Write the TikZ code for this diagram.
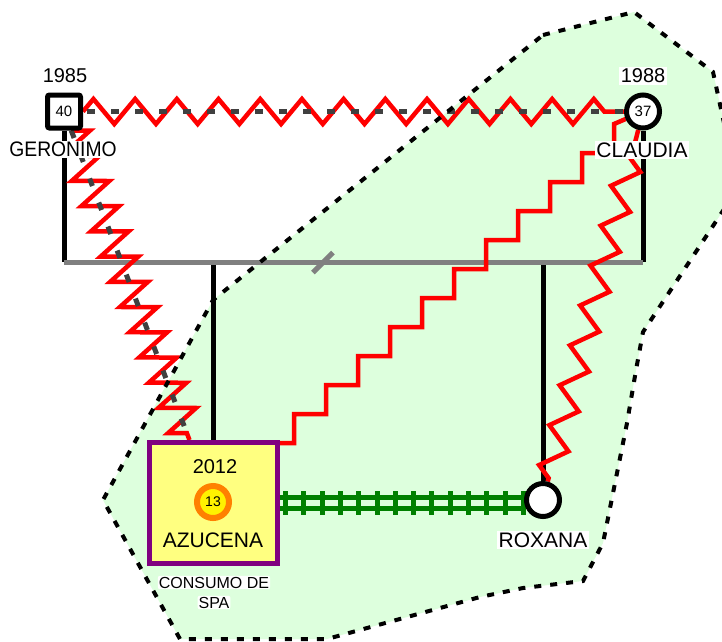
\documentclass[tikz,border=0pt]{standalone}
\usepackage{fontspec}
\usepackage{graphicx}
\setmainfont{Liberation Sans}
\usetikzlibrary{decorations.pathmorphing,decorations.pathreplacing,calc}
\definecolor{bggreen}{RGB}{221,255,221}
\definecolor{relred}{RGB}{255,0,0}
\definecolor{dgray}{RGB}{64,64,64}
\definecolor{mgray}{RGB}{128,128,128}
\definecolor{trackgreen}{RGB}{0,128,0}
\definecolor{purp}{RGB}{128,0,128}
\definecolor{boxyellow}{RGB}{255,255,128}
\definecolor{ringorange}{RGB}{255,128,0}
\pgfdeclarelayer{bg}
\pgfdeclarelayer{lines}
\pgfdeclarelayer{border}
\pgfsetlayers{bg,lines,border,main}
\begin{document}
\begin{tikzpicture}[x=1pt,y=-1pt,
  every node/.style={font=\fontsize{21}{24}\selectfont, inner sep=1pt},
  lbl/.style={fill=white, inner sep=1.5pt},
  yearlbl/.style={lbl, font=\fontsize{20}{22}\selectfont},
  smalllbl/.style={fill=white, inner sep=1pt, rounded corners=2pt, font=\fontsize{16}{18}\selectfont},
  male/.style={draw=black, fill=white, line width=5pt, minimum size=33pt, inner sep=0pt, rounded corners=2pt, font=\fontsize{15}{16}\selectfont},
  female/.style={draw=black, fill=white, circle, line width=5pt, minimum size=33pt, inner sep=0pt, font=\fontsize{15}{16}\selectfont},
  azbox/.style={draw=purp, fill=boxyellow, line width=5pt, minimum width=128pt, minimum height=121pt, inner sep=0pt},
  agering/.style={circle, draw=ringorange, fill=yellow, line width=6pt, minimum size=32pt, inner sep=0pt, font=\fontsize{14}{15}\selectfont},
  famline/.style={draw=black, line width=5pt},
  famgray/.style={draw=mgray, line width=5pt},
  hostile/.style={draw=relred, line width=4.5pt, line join=miter, decorate, decoration={zigzag, segment length=41.7pt, amplitude=12.5pt}},
  hostiledown/.style={draw=relred, line width=4.5pt, line join=miter, decorate, decoration={zigzag, segment length=41.2pt, amplitude=12.5pt, pre=lineto, pre length=30pt}},
  hostilediag/.style={draw=relred, line width=4.5pt, line join=miter, decorate, decoration={zigzag, segment length=27pt, amplitude=17.5pt}},
  stair/.style={draw=relred, line width=4.5pt, line join=miter},
  dashrel/.style={draw=dgray, line width=5pt, dash pattern=on 8pt off 16pt, dash phase=20pt},
  dashdiag/.style={draw=dgray, line width=5pt, dash pattern=on 8pt off 17.7pt},
  rail/.style={draw=trackgreen, line width=5pt, double=bggreen, double distance=6pt},
  ties/.style={draw=trackgreen, line width=5pt, decorate, decoration={ticks, segment length=18.3pt, amplitude=12pt, pre=moveto, pre length=5.5pt}},
  regionborder/.style={draw=black, line width=4pt, dash pattern=on 7pt off 9pt}
]
\useasboundingbox (0,0) rectangle (722,641);

% persons
\node[male] (ger) at (64,111.5) {40};
\node[female] (cla) at (643,111.5) {37};
\node[female] (rox) at (543,500) {};
\node[azbox] (az) at (213.5,503) {};
\node[font=\fontsize{20}{22}\selectfont] (azyear) at (215,467) {2012};
\node[agering] (azage) at (213,502) {13};
\node (azname) at (213,540.5) {AZUCENA};

% labels
\node[yearlbl] (y85) at (65,75.5) {1985};
\node[yearlbl] (y88) at (643,76) {1988};
\node[lbl] (gname) at (63,149.5) {\scalebox{0.92}[1]{GERONIMO}};
\node[lbl] (cname) at (642,150) {CLAUDIA};
\node[lbl] (rname) at (543,540) {ROXANA};
\node[smalllbl] (cons1) at (214,582.5) {CONSUMO DE};
\node[smalllbl] (cons2) at (214,602.5) {SPA};

\coordinate (barY) at (0,262);
\coordinate (div) at (323,262.5);

\begin{pgfonlayer}{bg}
  \fill[white] (0,0) rectangle (722,641);
  \fill[bggreen] (543,35) -- (634,12) -- (713,72) -- (738,188) -- (643,332) -- (636,370) -- (627,423) -- (613,493) -- (603,543) -- (583,581) -- (523,588) -- (480,597) -- (327,639) -- (180,639) -- (103,500) -- (213,300) -- cycle;
\end{pgfonlayer}

\begin{pgfonlayer}{lines}
  % family lines
  \draw[famline] (ger.south) -- (ger.south |- barY);
  \draw[famline] (cla.south) -- (cla.south |- barY);
  \draw[famline] (az.north |- barY) -- (az.north);
  \draw[famline] (rox.north |- barY) -- (rox.north);
  \draw[famgray] (ger.south |- barY) -- (cla.south |- barY);
  \draw[famgray] ($(div)+(-10,10)$) -- ($(div)+(10,-10)$);
  % green track
  \draw[rail] (az.east) -- (az.east -| rox.west);
  \draw[ties] (az.east) -- (az.east -| rox.west);
  % red relations
  \draw[hostile] (ger) -- (cla);
  \draw[hostilediag] (ger) -- (az);
  \draw[hostiledown] (cla) -- (rox);
  \draw[stair] ([yshift=-3pt]az.north east) -- ++(14,0)
     \foreach \i in {1,...,10} { -- ++(0,-29) -- ++(32,0) } -- ++(0,-29) -- (cla);
  % gray dashes on top
  \draw[dashrel] (ger) -- (cla);
  \draw[dashdiag] (ger) -- (az);
\end{pgfonlayer}

\begin{pgfonlayer}{border}
  \draw[regionborder] (543,35) -- (634,12) -- (713,72) -- (738,188) -- (643,332) -- (636,370) -- (627,423) -- (613,493) -- (603,543) -- (583,581) -- (523,588) -- (480,597) -- (327,639) -- (180,639) -- (103,500) -- (213,300) -- cycle;
\end{pgfonlayer}
\end{tikzpicture}
\end{document}
